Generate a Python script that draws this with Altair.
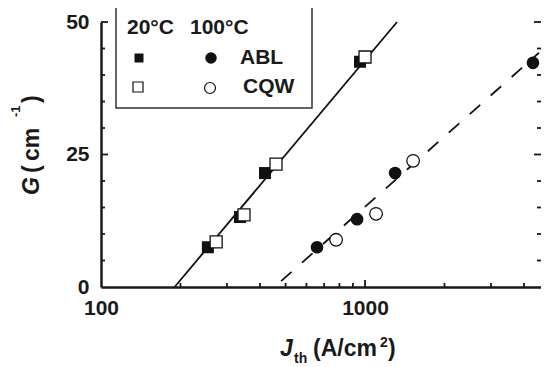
import altair as alt
import pandas as pd

# ---- data ----
abl20_J = [254, 336, 418, 957]
abl20_G = [7.5, 13.2, 21.5, 42.5]
cqw20_J = [273, 348, 460, 1000]
cqw20_G = [8.5, 13.6, 23.2, 43.4]
abl100_J = [658, 933, 1300, 4325]
abl100_G = [7.5, 12.8, 21.5, 42.3]
cqw100_J = [777, 1101, 1521]
cqw100_G = [8.9, 13.8, 23.8]
fit20_J = [190, 1322]
fit20_G = [0, 50]
fit100_J = [481, 4560]
fit100_G = [1.1, 44.2]

x_major = [1000]
x_minor = [200, 300, 400, 500, 600, 700, 800, 900, 2000, 3000, 4000]
y_major = [25, 50]
y_minor = [5, 10, 15, 20, 30, 35, 40, 45]
x_labels = [100, 1000]
y_labels = [0, 25, 50]
x_domain = [100, 4640]
y_domain = [0, 50]

W, H = 440, 265
FONT = "Liberation Sans"
INK = "#1a1a1a"

xs = alt.Scale(type="log", domain=x_domain, nice=False)
ys = alt.Scale(domain=y_domain, nice=False, zero=False)

xaxis = alt.Axis(
    values=x_labels, format="d", ticks=False, grid=False,
    domainColor=INK, domainWidth=2.5, labelFont=FONT,
    labelFontSize=21, labelFontWeight="bold", labelColor=INK,
    labelPadding=10, title=None, labelFlush=False)
yaxis = alt.Axis(
    values=y_labels, ticks=False, grid=False,
    domainColor=INK, domainWidth=2.5, labelFont=FONT,
    labelFontSize=21, labelFontWeight="bold", labelColor=INK,
    labelPadding=12, title=None, labelFlush=False)


def df(J, G):
    return pd.DataFrame({"J": J, "G": G})


xenc = alt.X("J:Q", scale=xs, axis=xaxis)
yenc = alt.Y("G:Q", scale=ys, axis=yaxis)

axes = alt.Chart(df([100], [0])).mark_point(opacity=0).encode(x=xenc, y=yenc)


def xtick(vals, length):
    return alt.Chart(pd.DataFrame({"J": vals})).mark_rule(
        color=INK, strokeWidth=1.8).encode(
        x=xenc, y=alt.value(H), y2=alt.value(H - length))


def ytick(vals, x0, x1):
    return alt.Chart(pd.DataFrame({"G": vals})).mark_rule(
        color=INK, strokeWidth=1.8).encode(
        y=yenc, x=alt.value(x0), x2=alt.value(x1))


ticks = [
    xtick(x_major, 7),
    xtick(x_minor, 4),
    ytick(y_major, 0, 7),
    ytick(y_minor, 0, 4),
    ytick(y_major, W, W - 7),
    ytick(y_minor, W, W - 4),
]

line20 = alt.Chart(df(fit20_J, fit20_G)).mark_line(
    color="#111", strokeWidth=1.8).encode(x=xenc, y=yenc)
line100 = alt.Chart(df(fit100_J, fit100_G)).mark_line(
    color="#111", strokeWidth=1.8, strokeDash=[14, 14]).encode(x=xenc, y=yenc)

sq_f = alt.Chart(df(abl20_J, abl20_G)).mark_point(
    shape="square", filled=True, color="#111", size=144, opacity=1).encode(x=xenc, y=yenc)
sq_o = alt.Chart(df(cqw20_J, cqw20_G)).mark_point(
    shape="square", filled=True, fill="white", stroke="#111", strokeWidth=1.3,
    size=144, opacity=1).encode(x=xenc, y=yenc)
ci_f = alt.Chart(df(abl100_J, abl100_G)).mark_point(
    shape="circle", filled=True, color="#111", size=160, opacity=1).encode(x=xenc, y=yenc)
ci_o = alt.Chart(df(cqw100_J, cqw100_G)).mark_point(
    shape="circle", filled=True, fill="white", stroke="#111", strokeWidth=1.3,
    size=160, opacity=1).encode(x=xenc, y=yenc)

one = pd.DataFrame({"a": [0]})


def txt(s, x, y, size=21, style="normal", angle=0, align="center",
        baseline="middle"):
    return alt.Chart(one).mark_text(
        text=s, font=FONT, fontSize=size, fontWeight="bold", fontStyle=style,
        angle=angle, align=align, baseline=baseline, color=INK).encode(
        x=alt.value(x), y=alt.value(y))


box = alt.Chart(one).mark_rect(fill="white", stroke="#333", strokeWidth=1.5).encode(
    x=alt.value(15), x2=alt.value(211), y=alt.value(-15), y2=alt.value(86))


def lmark(shape, x, y, size, filled):
    if filled:
        m = alt.Chart(one).mark_point(shape=shape, filled=True, color="#111",
                                      size=size, opacity=1)
    else:
        m = alt.Chart(one).mark_point(shape=shape, filled=True, fill="white",
                                      stroke="#111", strokeWidth=1.2,
                                      size=size, opacity=1)
    return m.encode(x=alt.value(x), y=alt.value(y))


legend = [
    box,
    txt("20°C", 26, 6, align="left"),
    txt("100°C", 89, 6, align="left"),
    lmark("square", 38, 36, 81, True),
    lmark("circle", 110, 36, 133, True),
    txt("ABL", 139, 36, align="left"),
    lmark("square", 37, 65, 100, False),
    lmark("circle", 109, 66, 120, False),
    txt("CQW", 142, 65, align="left"),
]

AB = "alphabetic"
titles = [
    # y title (rotated, reading upward)
    txt("G", -62.5, 173, size=23, style="italic", angle=270, align="left", baseline=AB),
    txt("(", -62.5, 151, size=23, angle=270, align="left", baseline=AB),
    txt("cm", -62.5, 139, size=23, angle=270, align="left", baseline=AB),
    txt("-1", -81, 95, size=13, angle=270, align="left", baseline=AB),
    txt(")", -62.5, 81, size=23, angle=270, align="left", baseline=AB),
    # x title
    txt("J", 179, 334, size=23, style="italic", align="left", baseline=AB),
    txt("th", 193, 341, size=14, align="left", baseline=AB),
    txt("(A/cm", 212, 334, size=23, align="left", baseline=AB),
    txt("2", 279, 325, size=14, align="left", baseline=AB),
    txt(")", 287, 334, size=23, align="left", baseline=AB),
]

chart = alt.layer(
    axes, *ticks, line20, line100, sq_f, sq_o, ci_f, ci_o, *legend, *titles
).properties(
    width=W, height=H,
    autosize=alt.AutoSizeParams(type="none"),
    padding={"left": 93, "top": 14, "right": 0, "bottom": 80},
    background="white",
).configure_view(stroke=None)

chart.save("out.html", embed_options={"renderer": "svg", "actions": False})
